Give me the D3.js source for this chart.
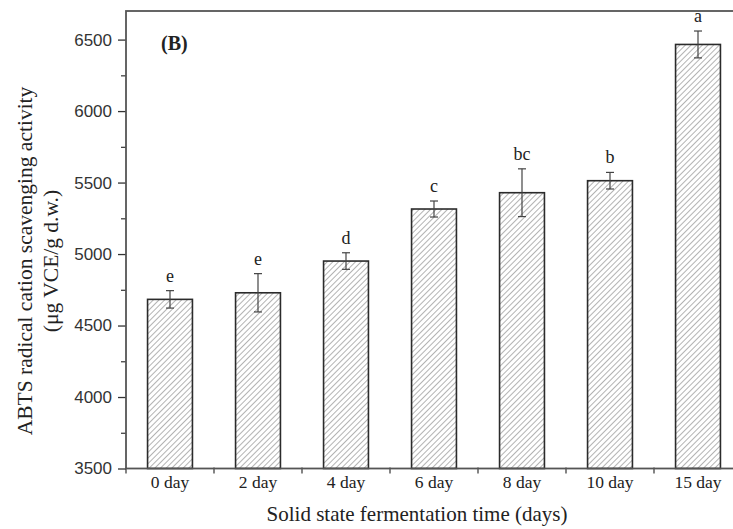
<!DOCTYPE html>
<html>
<head>
<meta charset="utf-8">
<script src="https://cdn.jsdelivr.net/npm/d3@7"></script>
<style>
  body { margin: 0; background: #fff; }
  svg { display: block; }
</style>
</head>
<body>
<svg></svg>
<script>
var days = ["0 day", "2 day", "4 day", "6 day", "8 day", "10 day", "15 day"];
var activity = [4683, 4729, 4951, 5315, 5429, 5513, 6466];
var errors = [61, 134, 58, 56, 167, 58, 94];
var letters = ["e", "e", "d", "c", "bc", "b", "a"];
var yTicks = [3500, 4000, 4500, 5000, 5500, 6000, 6500];

var width = 733, height = 529;
var svg = d3.select("svg").attr("width", width).attr("height", height);

// plot edges (right edge is cropped off the picture)
var plotLeft = 126, plotTop = 11, plotRight = 742, plotBottom = 468.5;
var serif = "'Liberation Serif', 'Times New Roman', serif";

var x = d3.scaleBand()
  .domain(days)
  .range([plotLeft, plotRight])
  .paddingInner(0.49)
  .paddingOuter(0.245);

var y = d3.scaleLinear()
  .domain([3500, 6700])
  .range([plotBottom, plotTop]);

// hatch
var defs = svg.append("defs");
defs.append("pattern")
  .attr("id", "hatch")
  .attr("patternUnits", "userSpaceOnUse")
  .attr("width", 4)
  .attr("height", 4)
  .attr("patternTransform", "rotate(45)")
  .append("line")
  .attr("x1", 0).attr("y1", 0)
  .attr("x2", 0).attr("y2", 4)
  .attr("stroke", "#808080")
  .attr("stroke-width", 1.2);

// bars
svg.append("g").selectAll("rect")
  .data(days)
  .enter().append("rect")
  .attr("x", function(d) { return x(d); })
  .attr("width", x.bandwidth())
  .attr("y", function(d, i) { return y(activity[i]); })
  .attr("height", function(d, i) { return plotBottom - y(activity[i]); })
  .attr("fill", "url(#hatch)")
  .attr("stroke", "#2b2b2b")
  .attr("stroke-width", 1.6);

// error bars
var eb = svg.append("g").attr("stroke", "#444").attr("stroke-width", 1.2);
days.forEach(function(d, i) {
  var cx = x(d) + x.bandwidth() / 2;
  var y1 = y(activity[i] + errors[i]), y2 = y(activity[i] - errors[i]);
  eb.append("line").attr("x1", cx).attr("x2", cx).attr("y1", y1).attr("y2", y2);
  eb.append("line").attr("x1", cx - 4).attr("x2", cx + 4).attr("y1", y1).attr("y2", y1);
  eb.append("line").attr("x1", cx - 4).attr("x2", cx + 4).attr("y1", y2).attr("y2", y2);
});

// significance letters
svg.append("g").selectAll("text")
  .data(days)
  .enter().append("text")
  .attr("x", function(d) { return x(d) + x.bandwidth() / 2; })
  .attr("y", function(d, i) { return y(activity[i] + errors[i]) - 9; })
  .attr("text-anchor", "middle")
  .style("font-family", serif)
  .style("font-size", "18px")
  .style("fill", "#222")
  .text(function(d, i) { return letters[i]; });

// y axis
var yAxis = svg.append("g")
  .attr("transform", "translate(" + plotLeft + ",0)")
  .call(d3.axisLeft(y).tickValues(yTicks).tickSize(8).tickPadding(6).tickFormat(d3.format("d")));
yAxis.select(".domain").remove();
yAxis.selectAll("line").attr("stroke", "#333").attr("stroke-width", 1.3);
yAxis.selectAll("text")
  .style("font-family", "'Liberation Sans', Arial, sans-serif")
  .style("font-size", "17px")
  .style("fill", "#333");

var yMinor = svg.append("g")
  .attr("transform", "translate(" + plotLeft + ",0)")
  .call(d3.axisLeft(y).tickValues(d3.range(3750, 6700, 500)).tickSize(5).tickFormat(""));
yMinor.select(".domain").remove();
yMinor.selectAll("line").attr("stroke", "#333").attr("stroke-width", 1.2);

// x axis
var xAxis = svg.append("g")
  .attr("transform", "translate(0," + plotBottom + ")")
  .call(d3.axisBottom(x).tickSize(0).tickPadding(7.5));
xAxis.select(".domain").remove();
xAxis.selectAll("text")
  .style("font-family", serif)
  .style("font-size", "17.5px")
  .style("fill", "#222");

// ticks between categories
var step = x.step();
svg.append("g").selectAll("line")
  .data(days)
  .enter().append("line")
  .attr("x1", function(d) { return x(d) - x.paddingOuter() * step; })
  .attr("x2", function(d) { return x(d) - x.paddingOuter() * step; })
  .attr("y1", plotBottom - 1)
  .attr("y2", plotBottom + 5)
  .attr("stroke", "#333")
  .attr("stroke-width", 1.2);

// frame
svg.append("rect")
  .attr("x", plotLeft).attr("y", plotTop)
  .attr("width", plotRight - plotLeft).attr("height", plotBottom - plotTop)
  .attr("fill", "none")
  .attr("stroke", "#555")
  .attr("stroke-width", 1.8);

// panel label
svg.append("text")
  .attr("x", 161).attr("y", 50)
  .style("font-family", serif)
  .style("font-size", "20px")
  .style("font-weight", "bold")
  .style("fill", "#222")
  .text("(B)");

// axis titles
svg.append("text")
  .attr("x", 417).attr("y", 521)
  .attr("text-anchor", "middle")
  .style("font-family", serif)
  .style("font-size", "21px")
  .style("fill", "#222")
  .text("Solid state fermentation time (days)");

var yt = svg.append("text")
  .attr("transform", "translate(0,261) rotate(-90)")
  .attr("text-anchor", "middle")
  .style("font-family", serif)
  .style("font-size", "21.5px")
  .style("fill", "#222");
yt.append("tspan").attr("x", 0).attr("y", 32).text("ABTS radical cation scavenging activity");
yt.append("tspan").attr("x", 0).attr("y", 58).text("(\u03bcg VCE/g d.w.)");
</script>
</body>
</html>
